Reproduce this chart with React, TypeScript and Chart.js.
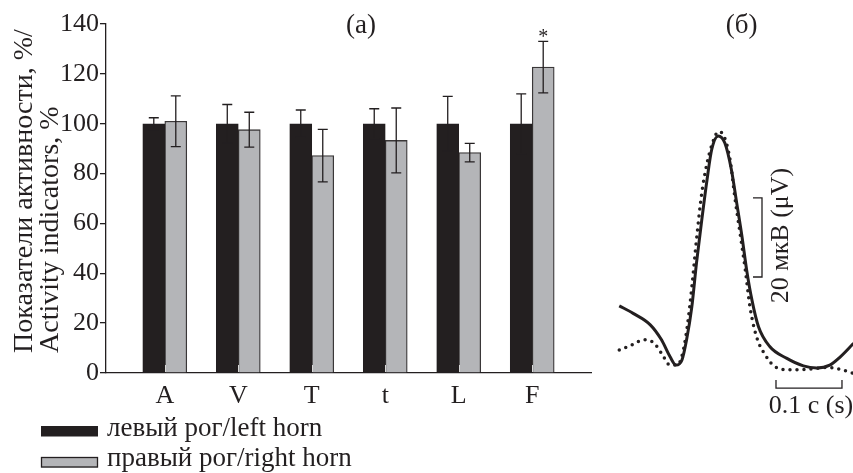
import React, { useEffect, useRef } from "react";
import { Chart, registerables } from "chart.js";

Chart.register(...registerables);

// ---------- Panel (a) data ----------
const CATEGORIES = ["A", "V", "T", "t", "L", "F"];
const LEFT_HORN = [100, 100, 100, 100, 100, 100];
const LEFT_ERR = [2.4, 7.7, 5.5, 6, 11, 12];
const RIGHT_HORN = [101, 97.6, 87.2, 93.3, 88.4, 122.7];
const RIGHT_ERR = [10.2, 7, 10.5, 13, 3.7, 10.3];
const SIGNIFICANT = [false, false, false, false, false, true];
const Y_MIN = 0;
const Y_MAX = 140;
const Y_STEP = 20;
const LEGEND_LABELS = ["левый рог/left horn", "правый рог/right horn"];
const Y_TITLE = ["Показатели активности, %/", "Activity indicators, %"];
const PANEL_A = "(a)";

// ---------- Panel (б) data: time (ms), amplitude (µV) ----------
const TIME_SOLID = [14, 35, 61, 78, 91, 100, 109, 116, 124, 131, 139, 147, 154, 164, 174, 184, 192, 200, 207, 215, 225, 242, 268, 293, 313, 333, 349, 369];
const AMP_SOLID = [17.0, 15.1, 12.2, 8.4, 4.1, 2.0, 3.3, 8.4, 16.8, 27.8, 38.7, 48.9, 56.5, 60.0, 58.2, 51.4, 43.0, 34.5, 26.1, 18.5, 11.7, 6.7, 3.7, 1.8, 1.3, 2.0, 4.1, 7.5];
const TIME_DOTTED = [14, 33, 51, 66, 78, 91, 102, 110, 117, 124, 131, 139, 147, 157, 164, 173, 182, 189, 197, 205, 212, 222, 235, 250, 273, 298, 328, 349, 369];
const AMP_DOTTED = [5.8, 7.1, 8.4, 7.7, 5.0, 2.0, 2.0, 5.0, 11.7, 21.8, 33.7, 45.5, 53.1, 59.0, 61.1, 59.8, 53.9, 44.6, 35.4, 26.1, 16.8, 9.2, 4.6, 1.6, 0.8, 0.9, 1.4, 0.9, -0.1];
const AMP_BAR_UV = 20;
const TIME_BAR_MS = 100;
const AMP_BAR_LABEL = "20 мкВ (μV)";
const TIME_BAR_LABEL = "0.1 с (s)";
const PANEL_B = "(б)";
const AMP_BAR_AT = { t: 230.3, v: 24.3 };
const TIME_BAR_AT = { t: 251.5, v: -3.8 };

const FONT = "'Liberation Serif', 'Times New Roman', serif";
const INK = "#231f20";
const GRAY = "#b4b5b8";

const barExtras = {
  id: "barExtras",
  afterDatasetsDraw(chart: any) {
    const { ctx } = chart;
    const ys = chart.scales.y;
    const xs = chart.scales.x;
    ctx.save();
    // inner tick marks at category centres
    ctx.strokeStyle = "#d8d8d8";
    ctx.lineWidth = 1;
    CATEGORIES.forEach((_, i) => {
      const px = Math.round(xs.getPixelForValue(i)) + 0.5;
      ctx.beginPath();
      ctx.moveTo(px, ys.bottom - 1);
      ctx.lineTo(px, ys.bottom - 8);
      ctx.stroke();
    });
    const sets: [number[], number[]][] = [
      [LEFT_HORN, LEFT_ERR],
      [RIGHT_HORN, RIGHT_ERR],
    ];
    ctx.strokeStyle = INK;
    ctx.lineWidth = 1.3;
    sets.forEach(([vals, errs], d) => {
      const meta = chart.getDatasetMeta(d);
      meta.data.forEach((el: any, i: number) => {
        const cx = el.x;
        const top = ys.getPixelForValue(vals[i] + errs[i]);
        const bot = ys.getPixelForValue(vals[i] - errs[i]);
        ctx.beginPath();
        ctx.moveTo(cx, top);
        ctx.lineTo(cx, bot);
        ctx.moveTo(cx - 5, top);
        ctx.lineTo(cx + 5, top);
        ctx.moveTo(cx - 5, bot);
        ctx.lineTo(cx + 5, bot);
        ctx.stroke();
      });
    });
    // significance marks
    const meta1 = chart.getDatasetMeta(1);
    ctx.fillStyle = INK;
    ctx.font = `20px ${FONT}`;
    ctx.textAlign = "center";
    ctx.textBaseline = "alphabetic";
    SIGNIFICANT.forEach((s, i) => {
      if (!s) return;
      const el = meta1.data[i];
      const top = ys.getPixelForValue(RIGHT_HORN[i] + RIGHT_ERR[i]);
      ctx.fillText("*", el.x, top + 2);
    });
    ctx.restore();
  },
  afterDraw(chart: any) {
    const { ctx, chartArea } = chart;
    ctx.save();
    ctx.fillStyle = INK;
    // panel label
    ctx.font = `27px ${FONT}`;
    ctx.textAlign = "center";
    ctx.textBaseline = "alphabetic";
    ctx.fillText(PANEL_A, 361, 33);
    // y title (two rotated lines, bottom aligned)
    const baseX = [32, 58];
    Y_TITLE.forEach((line, k) => {
      ctx.save();
      ctx.translate(baseX[k], chartArea.bottom - 20);
      ctx.rotate(-Math.PI / 2);
      ctx.textAlign = "left";
      ctx.font = `28px ${FONT}`;
      ctx.fillText(line, 0, 0);
      ctx.restore();
    });
    // legend
    const colors = [INK, GRAY];
    const boxTop = [426, 457];
    const textBase = [436, 466];
    ctx.font = `27px ${FONT}`;
    ctx.textAlign = "left";
    LEGEND_LABELS.forEach((lab, k) => {
      ctx.fillStyle = colors[k];
      ctx.fillRect(41, boxTop[k], 57, 10.5);
      if (k === 1) {
        ctx.strokeStyle = INK;
        ctx.lineWidth = 1.3;
        ctx.strokeRect(41.5, boxTop[k] + 0.5, 56, 9.5);
      }
      ctx.fillStyle = INK;
      ctx.fillText(lab, 107, textBase[k]);
    });
    ctx.restore();
  },
};

const waveExtras = {
  id: "waveExtras",
  afterDraw(chart: any) {
    const { ctx } = chart;
    const xs = chart.scales.x;
    const ys = chart.scales.y;
    ctx.save();
    ctx.fillStyle = INK;
    ctx.strokeStyle = INK;
    ctx.font = `27px ${FONT}`;
    ctx.textAlign = "center";
    ctx.textBaseline = "alphabetic";
    ctx.fillText(PANEL_B, 141.7, 33);
    // amplitude scale bar
    const ax = xs.getPixelForValue(AMP_BAR_AT.t);
    const ay1 = ys.getPixelForValue(AMP_BAR_AT.v);
    const ay2 = ys.getPixelForValue(AMP_BAR_AT.v + AMP_BAR_UV);
    ctx.lineWidth = 1.3;
    ctx.beginPath();
    ctx.moveTo(ax - 9, ay2);
    ctx.lineTo(ax, ay2);
    ctx.lineTo(ax, ay1);
    ctx.lineTo(ax - 9, ay1);
    ctx.stroke();
    ctx.save();
    ctx.translate(ax + 26, (ay1 + ay2) / 2 - 2);
    ctx.rotate(-Math.PI / 2);
    ctx.font = `26px ${FONT}`;
    ctx.fillText(AMP_BAR_LABEL, 0, 0);
    ctx.restore();
    // time scale bar
    const tx1 = xs.getPixelForValue(TIME_BAR_AT.t);
    const tx2 = xs.getPixelForValue(TIME_BAR_AT.t + TIME_BAR_MS);
    const ty = ys.getPixelForValue(TIME_BAR_AT.v);
    ctx.beginPath();
    ctx.moveTo(tx1, ty - 8);
    ctx.lineTo(tx1, ty);
    ctx.lineTo(tx2, ty);
    ctx.lineTo(tx2, ty - 8);
    ctx.stroke();
    ctx.font = `26px ${FONT}`;
    ctx.fillText(TIME_BAR_LABEL, (tx1 + tx2) / 2 + 2, ty + 25);
    ctx.restore();
  },
};

export default function App() {
  const refA = useRef<HTMLCanvasElement>(null);
  const refB = useRef<HTMLCanvasElement>(null);

  useEffect(() => {
    const tickFont = { family: FONT, size: 26 };
    const chartA = new Chart(refA.current as HTMLCanvasElement, {
      type: "bar",
      data: {
        datasets: [
          {
            label: LEGEND_LABELS[0],
            data: CATEGORIES.map((_, i) => ({ x: i, y: LEFT_HORN[i] })),
            backgroundColor: INK,
            borderColor: INK,
            borderWidth: 1,
            barThickness: 22,
          },
          {
            label: LEGEND_LABELS[1],
            data: CATEGORIES.map((_, i) => ({ x: i, y: RIGHT_HORN[i] })),
            backgroundColor: GRAY,
            borderColor: "#3a3738",
            borderWidth: 1.3,
            barThickness: 22,
          },
        ],
      } as any,
      options: {
        animation: false,
        responsive: false,
        layout: { padding: { left: 0, right: 19, top: 24, bottom: 0 } },
        plugins: { legend: { display: false }, tooltip: { enabled: false } },
        scales: {
          x: {
            type: "linear",
            min: -0.8,
            max: 5.8,
            offset: false,
            afterBuildTicks: (s: any) => {
              s.ticks = CATEGORIES.map((_, i) => ({ value: i }));
            },
            afterFit: (s: any) => {
              s.height = 100;
            },
            grid: { display: true, drawOnChartArea: false, drawTicks: false, offset: false },
            border: { display: true, color: INK, width: 1.3 },
            ticks: {
              autoSkip: false,
              maxRotation: 0,
              padding: 8,
              color: INK,
              font: tickFont,
              callback: (_v: any, i: number) => CATEGORIES[i],
            },
          },
          y: {
            min: Y_MIN,
            max: Y_MAX,
            afterFit: (s: any) => {
              s.width = 106;
            },
            grid: { drawOnChartArea: false, tickLength: 6, color: INK, lineWidth: 1.3 },
            border: { display: true, color: INK, width: 1.3 },
            ticks: { stepSize: Y_STEP, padding: 1, color: INK, font: tickFont },
          },
        },
      } as any,
      plugins: [barExtras],
    });

    const chartB = new Chart(refB.current as HTMLCanvasElement, {
      type: "line",
      data: {
        datasets: [
          {
            data: TIME_SOLID.map((t, i) => ({ x: t, y: AMP_SOLID[i] })),
            borderColor: INK,
            borderWidth: 3,
            pointRadius: 0,
            fill: false,
            cubicInterpolationMode: "monotone",
          },
          {
            data: TIME_DOTTED.map((t, i) => ({ x: t, y: AMP_DOTTED[i] })),
            borderColor: INK,
            borderWidth: 3.5,
            borderDash: [0, 7],
            borderCapStyle: "round",
            pointRadius: 0,
            fill: false,
            cubicInterpolationMode: "monotone",
          },
        ],
      } as any,
      options: {
        animation: false,
        responsive: false,
        layout: { padding: 0 },
        plugins: { legend: { display: false }, tooltip: { enabled: false } },
        scales: {
          x: { type: "linear", display: false, min: -15.2, max: 368.2 },
          y: { type: "linear", display: false, min: -25.3, max: 94.4 },
        },
      } as any,
      plugins: [waveExtras],
    });

    return () => {
      chartA.destroy();
      chartB.destroy();
    };
  }, []);

  return (
    <div
      style={{
        position: "fixed",
        left: 0,
        top: 0,
        width: 853,
        height: 473,
        background: "#fff",
        overflow: "hidden",
      }}
    >
      <canvas ref={refA} width={610} height={473} style={{ position: "absolute", left: 0, top: 0 }} />
      <canvas ref={refB} width={253} height={473} style={{ position: "absolute", left: 600, top: 0 }} />
    </div>
  );
}
